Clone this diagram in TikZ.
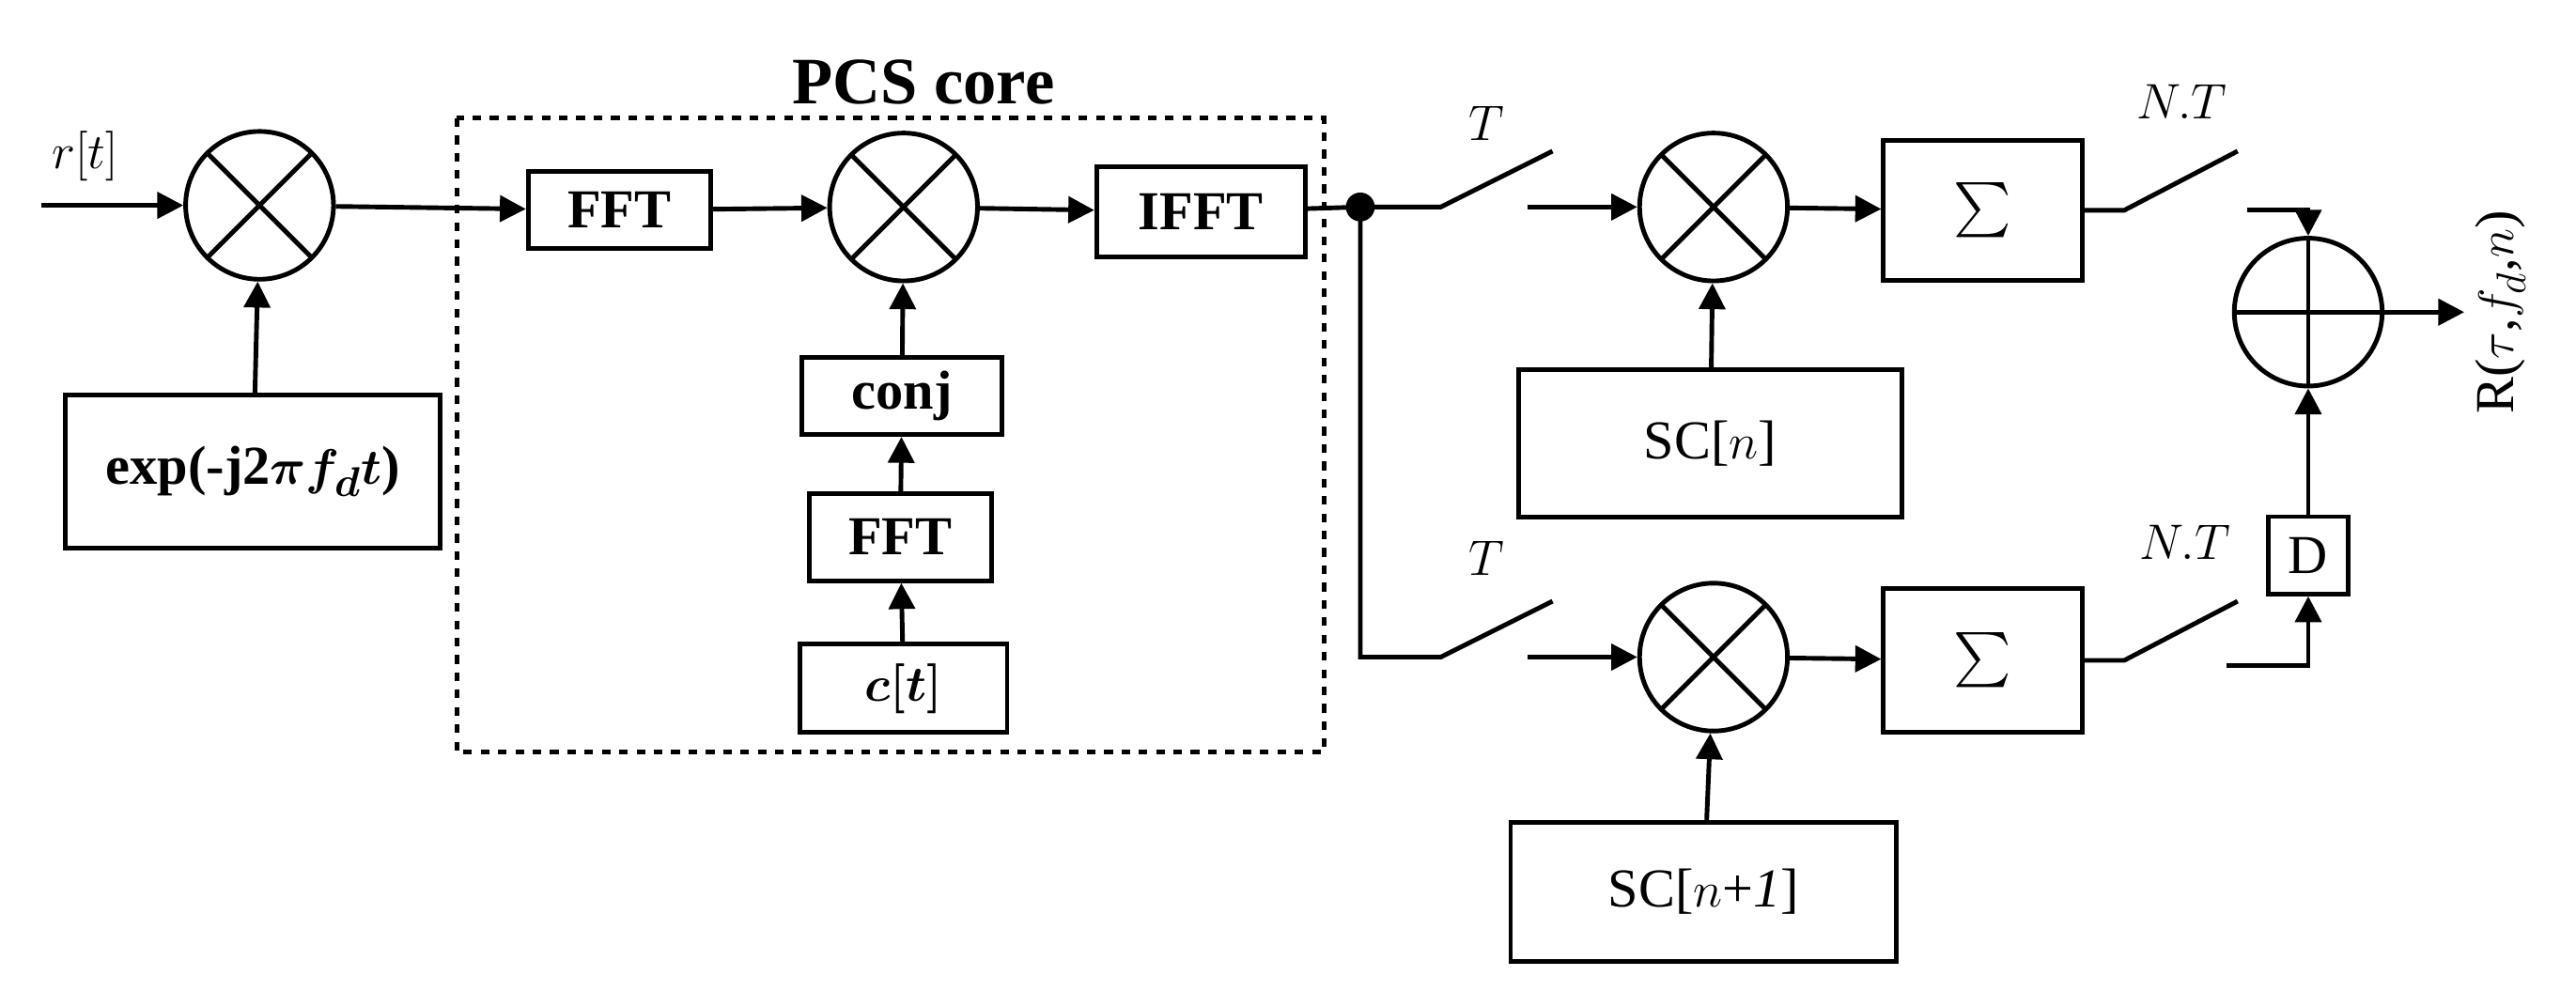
\documentclass[tikz,border=0pt]{standalone}
\usepackage{amsmath,amssymb,bm}
\usepackage{fontspec}
\setmainfont{Liberation Serif}
\usetikzlibrary{arrows.meta}
\begin{document}
\begin{tikzpicture}[x=0.02cm,y=-0.02cm,line width=1.6pt,
  every node/.style={font=\fontsize{19}{22}\selectfont},
  box/.style={draw,inner sep=0pt,anchor=center},
  bbox/.style={box,font=\bfseries\fontsize{19}{22}\selectfont},
  mix/.style={draw,circle,minimum size=90*0.02cm,inner sep=0pt,path picture={\draw (path picture bounding box.north west)--(path picture bounding box.south east) (path picture bounding box.north east)--(path picture bounding box.south west);}},
  add/.style={draw,circle,minimum size=90*0.02cm,inner sep=0pt,path picture={\draw (path picture bounding box.north)--(path picture bounding box.south) (path picture bounding box.east)--(path picture bounding box.west);}},
  arr/.style={-{Triangle[length=9pt,width=9pt]}}]
\useasboundingbox (0,0) rectangle (1568,613);
% left
\node[mix] (m1) at (158,125) {};
\coordinate (in) at (25,125);
\node at (52,95) {$r[t]$};
\node[bbox,minimum width=228*0.02cm,minimum height=93*0.02cm] (exp) at (154,287) {exp(-j2$\bm{\pi f_d t}$)};
\draw[arr] (in) -- (m1);
\draw[arr] (exp) -- (m1);
% PCS core
\draw[dashed] (278,72) rectangle (806,458);
\node[font=\bfseries\fontsize{23}{26}\selectfont] (pcs) at (562,50) {PCS core};
\node[bbox,minimum width=111*0.02cm,minimum height=47*0.02cm] (fft1) at (377,128) {FFT};
\node[mix] (m2) at (550,126) {};
\node[bbox,minimum width=127*0.02cm,minimum height=55*0.02cm] (ifft) at (731,129) {IFFT};
\node[bbox,minimum width=122*0.02cm,minimum height=47*0.02cm] (conj) at (549,241) {conj};
\node[bbox,minimum width=111*0.02cm,minimum height=53*0.02cm] (fft2) at (548,327) {FFT};
\node[bbox,minimum width=126*0.02cm,minimum height=54*0.02cm] (ct) at (550,419) {$\bm{c[t]}$};
\draw[arr] (m1) -- (fft1);
\draw[arr] (fft1) -- (m2);
\draw[arr] (m2) -- (ifft);
\draw[arr] (ct) -- (fft2);
\draw[arr] (fft2) -- (conj);
\draw[arr] (conj) -- (m2);
% split
\coordinate (dot) at (828,126);
\fill (dot) circle (5pt);
\draw (ifft) -- (dot);
\coordinate (s1a) at (877,126); \coordinate (s1b) at (945,92);
\coordinate (s2a) at (877,400); \coordinate (s2b) at (945,366);
\draw (dot) -- (s1a) -- (s1b);
\draw (dot) |- (s2a) -- (s2b);
\node at (905,75) {$T$};
\node at (905,340) {$T$};
% top branch
\node[mix] (m3) at (1043,126) {};
\node[box,minimum width=233*0.02cm,minimum height=90*0.02cm] (sc1) at (1041,270) {SC[$n$]};
\node[box,minimum width=121*0.02cm,minimum height=85*0.02cm] (sum1) at (1207,128) {$\sum$};
\coordinate (t1) at (930,126);
\draw[arr] (t1) -- (m3);
\draw[arr] (sc1) -- (m3);
\draw[arr] (m3) -- (sum1);
\coordinate (s3a) at (1293,128); \coordinate (s3b) at (1362,92);
\draw (sum1) -- (s3a) -- (s3b);
\node at (1328,62) {$N.T$};
% bottom branch
\node[mix] (m4) at (1043,400) {};
\node[box,minimum width=235*0.02cm,minimum height=85*0.02cm] (sc2) at (1037,543) {SC[$n$+$\mathit{1}$]};
\node[box,minimum width=121*0.02cm,minimum height=88*0.02cm] (sum2) at (1207,402) {$\sum$};
\coordinate (t2) at (930,400);
\draw[arr] (t2) -- (m4);
\draw[arr] (sc2) -- (m4);
\draw[arr] (m4) -- (sum2);
\coordinate (s4a) at (1293,402); \coordinate (s4b) at (1362,366);
\draw (sum2) -- (s4a) -- (s4b);
\node at (1330,330) {$N.T$};
% combiner
\node[add] (pl) at (1405,190) {};
\node[box,minimum width=49*0.02cm,minimum height=47*0.02cm] (D) at (1405,338) {D};
\coordinate (u1) at (1368,128);
\coordinate (u2) at (1355,405);
\draw[arr] (u1) -| (pl);
\draw[arr] (u2) -| (D);
\draw[arr] (D) -- (pl);
\coordinate (out) at (1500,190);
\draw[arr] (pl) -- (out);
\node[rotate=90] at (1522,190) {R($\tau$,$f_d$,$n$)};
\end{tikzpicture}
\end{document}
